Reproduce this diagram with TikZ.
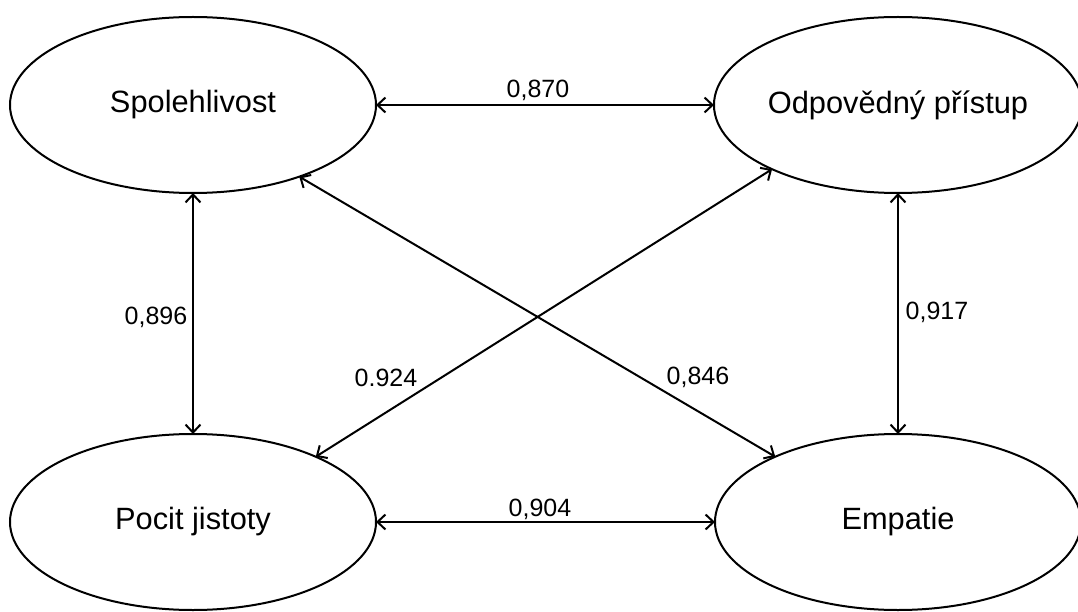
\documentclass[tikz,border=0pt]{standalone}
\usepackage{fontspec}
\setmainfont{Liberation Sans}
\usetikzlibrary{shapes.geometric,arrows.meta}

\begin{document}
\begin{tikzpicture}[x=1pt,y=-1pt,
  construct/.style={draw=black, line width=2pt, ellipse, minimum width=366pt,
    minimum height=176pt, inner sep=0pt, outer sep=0pt,
    font=\fontsize{30.8}{36}\selectfont},
  corr/.style={draw=black, line width=2pt,
    {Straight Barb[length=8pt,width=15pt,line width=2pt]}-{Straight Barb[length=8pt,width=15pt,line width=2pt]}},
  coef/.style={font=\fontsize{25}{30}\selectfont, inner sep=0pt}]

  \useasboundingbox (0,0) rectangle (1078,612);

  % latent constructs
  \node[construct] (spol) at (193,105) {Spolehlivost};
  \node[construct] (odp)  at (898,105) {Odpovědný přístup};
  \node[construct] (poc)  at (193,522) {Pocit jistoty};
  \node[construct] (emp)  at (898,522) {Empatie};

  % correlations
  \draw[corr] (spol.east) -- (odp.west);
  \draw[corr] (poc.east) -- (emp.west);
  \draw[corr] (spol.south) -- (poc.north);
  \draw[corr] (odp.south) -- (emp.north);
  \draw[corr] (spol.-34) -- (emp.152);
  \draw[corr] (poc.28) -- (odp.-153);

  % coefficients
  \node[coef] (c870) at (538,90)  {0,870};
  \node[coef] (c904) at (540,509) {0,904};
  \node[coef] (c896) at (156,317) {0,896};
  \node[coef] (c917) at (937,312) {0,917};
  \node[coef] (c924) at (386,378) {0.924};
  \node[coef] (c846) at (698,377) {0,846};
\end{tikzpicture}
\end{document}
